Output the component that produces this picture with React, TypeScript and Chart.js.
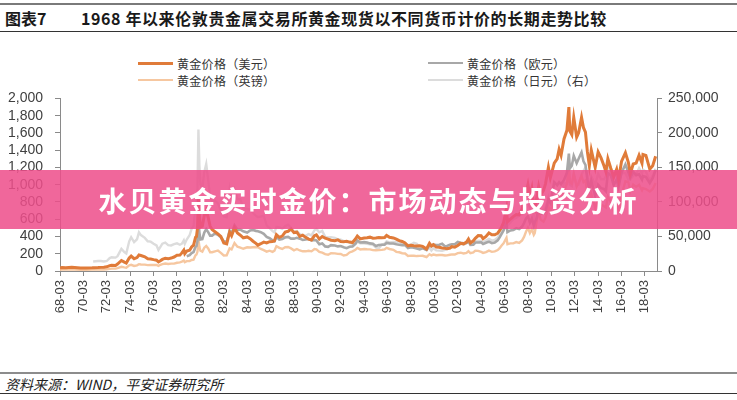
import React, { useEffect, useRef } from "react";
import { Chart, registerables } from "chart.js";

Chart.register(...registerables);

// ---- Data ----
const dates: string[] = [
  "1968-03", "1968-05", "1968-09", "1969-03", "1969-06", "1969-12", "1970-06", "1970-12",
  "1971-01", "1971-06", "1971-09", "1971-12",
  "1972-03", "1972-06", "1972-08", "1972-12",
  "1973-02", "1973-06", "1973-09", "1973-11",
  "1974-02", "1974-04", "1974-07", "1974-10", "1974-12",
  "1975-02", "1975-06", "1975-09", "1975-12",
  "1976-03", "1976-06", "1976-08", "1976-10", "1976-12",
  "1977-03", "1977-06", "1977-09", "1977-12",
  "1978-03", "1978-06", "1978-08", "1978-10", "1978-11",
  "1979-01", "1979-04", "1979-06", "1979-08", "1979-10", "1979-11", "1979-12",
  "1980-01", "1980-02", "1980-03", "1980-05", "1980-07", "1980-09", "1980-11",
  "1981-01", "1981-03", "1981-06", "1981-09", "1981-12",
  "1982-03", "1982-06", "1982-09", "1982-11",
  "1983-02", "1983-05", "1983-08", "1983-11",
  "1984-03", "1984-06", "1984-09", "1984-12",
  "1985-02", "1985-05", "1985-08", "1985-11",
  "1986-02", "1986-05", "1986-07", "1986-09", "1986-12",
  "1987-03", "1987-06", "1987-09", "1987-12",
  "1988-03", "1988-06", "1988-09", "1988-12",
  "1989-03", "1989-06", "1989-09", "1989-12",
  "1990-02", "1990-05", "1990-08", "1990-11",
  "1991-02", "1991-05", "1991-09", "1991-12",
  "1992-03", "1992-06", "1992-09", "1992-12",
  "1993-03", "1993-06", "1993-08", "1993-11",
  "1994-03", "1994-06", "1994-09", "1994-12",
  "1995-03", "1995-06", "1995-09", "1995-12",
  "1996-02", "1996-05", "1996-09", "1996-12",
  "1997-03", "1997-06", "1997-09", "1997-12",
  "1998-03", "1998-06", "1998-09", "1998-12",
  "1999-03", "1999-07", "1999-10", "1999-12",
  "2000-02", "2000-05", "2000-08", "2000-11",
  "2001-02", "2001-04", "2001-07", "2001-09", "2001-12",
  "2002-03", "2002-06", "2002-09", "2002-12",
  "2003-02", "2003-04", "2003-07", "2003-09", "2003-12",
  "2004-03", "2004-05", "2004-08", "2004-11",
  "2005-02", "2005-05", "2005-08", "2005-10", "2005-12",
  "2006-02", "2006-05", "2006-06", "2006-09", "2006-12",
  "2007-03", "2007-06", "2007-09", "2007-11",
  "2008-01", "2008-03", "2008-05", "2008-07", "2008-09", "2008-10", "2008-12",
  "2009-02", "2009-04", "2009-07", "2009-09", "2009-12",
  "2010-02", "2010-06", "2010-09", "2010-11",
  "2011-01", "2011-04", "2011-07", "2011-09", "2011-10", "2011-12",
  "2012-02", "2012-05", "2012-07", "2012-10", "2012-12",
  "2013-02", "2013-04", "2013-06", "2013-08", "2013-12",
  "2014-03", "2014-06", "2014-09", "2014-11",
  "2015-01", "2015-04", "2015-07", "2015-10", "2015-12",
  "2016-03", "2016-07", "2016-10", "2016-12",
  "2017-03", "2017-06", "2017-09", "2017-12",
  "2018-01", "2018-04", "2018-08", "2018-11",
  "2019-02",
];

const goldUSD: (number | null)[] = [
  35, 40, 39, 43, 41, 35, 35.5, 37.4,
  38, 40, 42, 43,
  48, 62, 67, 64,
  80, 122, 103, 92,
  150, 172, 142, 155, 185,
  180, 165, 142, 140,
  132, 125, 105, 118, 134,
  148, 141, 150, 162,
  182, 184, 210, 242, 200,
  230, 240, 278, 300, 390, 400, 490,
  850, 640, 510, 520, 640, 700, 620,
  520, 480, 455, 430, 400,
  325, 315, 450, 410,
  500, 440, 415, 385,
  395, 375, 345, 320,
  300, 316, 335, 325,
  340, 342, 350, 420, 390,
  405, 450, 460, 485,
  445, 450, 400, 415,
  390, 370, 360, 410,
  420, 370, 400, 380,
  370, 357, 350, 360,
  342, 340, 345, 335,
  330, 370, 405, 372,
  382, 385, 392, 380,
  382, 387, 385, 387,
  412, 390, 383, 370,
  352, 342, 325, 290,
  297, 293, 290, 292,
  285, 255, 320, 290,
  305, 277, 275, 267,
  262, 258, 266, 283, 276,
  295, 320, 315, 335,
  370, 325, 350, 378, 410,
  408, 375, 400, 440,
  420, 420, 438, 470, 510,
  560, 720, 570, 600, 630,
  655, 650, 720, 820,
  900, 1000, 870, 960, 750, 720, 850,
  980, 880, 935, 1010, 1200,
  1080, 1250, 1300, 1410,
  1340, 1530, 1630, 1900, 1620, 1580,
  1780, 1550, 1600, 1780, 1660,
  1610, 1380, 1220, 1400, 1200,
  1380, 1310, 1220, 1150,
  1300, 1190, 1090, 1180, 1060,
  1270, 1370, 1260, 1130,
  1240, 1250, 1340, 1250,
  1350, 1340, 1180, 1220,
  1330,
];

const goldGBP: (number | null)[] = [
  14.6, 16.7, 16.3, 18, 17.2, 14.6, 14.8, 15.6,
  15.8, 16.6, 17, 16.8,
  18.4, 24, 27, 27,
  33, 48, 42, 39,
  66, 72, 59, 66, 79,
  75, 74, 68, 69,
  69, 70, 59, 72, 79,
  86, 82, 86, 86,
  95, 100, 108, 120, 103,
  115, 115, 128, 132, 182, 190, 222,
  370, 280, 235, 225, 270, 290, 262,
  218, 218, 228, 238, 210,
  180, 182, 262, 250,
  325, 282, 272, 258,
  275, 272, 275, 278,
  275, 255, 242, 224,
  235, 222, 235, 288, 268,
  255, 275, 278, 262,
  240, 255, 238, 228,
  228, 235, 228, 255,
  250, 220, 212, 195,
  188, 206, 204, 198,
  197, 180, 187, 215,
  228, 245, 268, 250,
  255, 252, 250, 242,
  240, 242, 245, 250,
  268, 255, 245, 222,
  217, 206, 203, 175,
  178, 177, 173, 175,
  176, 162, 195, 180,
  190, 183, 185, 186,
  180, 181, 188, 193, 191,
  207, 212, 203, 210,
  230, 206, 215, 235, 233,
  222, 210, 219, 236,
  222, 228, 243, 265, 295,
  320, 385, 310, 320, 320,
  335, 325, 355, 395,
  455, 500, 440, 485, 420, 440, 580,
  680, 595, 570, 615, 745,
  690, 840, 830, 880,
  860, 930, 1010, 1210, 1030, 1010,
  1120, 980, 1025, 1100, 1030,
  1050, 900, 800, 895, 730,
  830, 770, 750, 735,
  860, 800, 700, 770, 715,
  880, 1040, 1030, 920,
  1000, 975, 1000, 935,
  960, 950, 920, 950,
  1020,
];

const goldEUR: (number | null)[] = [
  null, null, null, null, null, null, null, null,
  null, null, null, null,
  null, null, null, null,
  null, null, null, null,
  null, null, null, null, null,
  null, null, null, null,
  null, null, null, null, null,
  null, null, null, null,
  null, null, null, null, null,
  170, 183, 207, 220, 280, 290, 345,
  590, 445, 365, 370, 445, 485, 450,
  410, 410, 435, 420, 390,
  345, 335, 470, 435,
  530, 480, 480, 460,
  445, 470, 475, 465,
  460, 450, 430, 395,
  380, 355, 345, 400, 365,
  370, 390, 395, 375,
  375, 385, 375, 360,
  365, 370, 355, 360,
  355, 310, 320, 285,
  280, 300, 295, 285,
  290, 275, 265, 280,
  285, 315, 355, 330,
  335, 330, 320, 315,
  290, 300, 305, 305,
  325, 320, 318, 310,
  305, 300, 300, 265,
  275, 270, 260, 250,
  262, 245, 300, 288,
  305, 300, 305, 315,
  285, 290, 305, 310, 310,
  336, 328, 322, 325,
  343, 302, 305, 330, 330,
  333, 312, 327, 340,
  322, 330, 355, 390, 430,
  470, 560, 450, 470, 475,
  495, 485, 515, 555,
  610, 635, 560, 610, 525, 565, 610,
  770, 665, 665, 690, 825,
  790, 1030, 995, 1030,
  1005, 1055, 1140, 1360, 1190, 1220,
  1335, 1250, 1300, 1375, 1270,
  1230, 1060, 940, 1045, 870,
  1000, 960, 950, 925,
  1135, 1110, 995, 1060, 975,
  1140, 1235, 1140, 1080,
  1150, 1110, 1120, 1060,
  1100, 1090, 1020, 1075,
  1170,
];

const goldJPY: (number | null)[] = [
  null, null, null, null, null, null, null, null,
  13700, 14400, 14500, 13800,
  14500, 18700, 20000, 19400,
  21500, 32000, 27500, 25500,
  43000, 49000, 42000, 46000, 56000,
  52000, 48000, 43000, 42500,
  39500, 37000, 30500, 35000, 39500,
  41000, 37500, 37000, 39000,
  40000, 38000, 39500, 44500, 39500,
  45500, 52000, 61000, 65000, 92000, 98000, 118000,
  205000, 152000, 125000, 120000, 143000, 155000, 132000,
  108000, 100000, 102000, 98000, 88000,
  79000, 78000, 118000, 103000,
  118000, 104000, 104000, 91000,
  90000, 89000, 84000, 80000,
  78000, 79000, 80000, 66000,
  62000, 58000, 56000, 64000, 63000,
  61000, 65000, 67000, 63000,
  57000, 58000, 53500, 51500,
  51000, 53500, 51500, 59000,
  61000, 56000, 58000, 49500,
  48500, 49000, 48000, 46000,
  45500, 43500, 42000, 41500,
  39000, 39500, 42000, 40000,
  40000, 39500, 38800, 37800,
  34000, 32500, 38000, 39500,
  43000, 41500, 42000, 42000,
  43000, 39000, 39500, 37500,
  38500, 41000, 39500, 34000,
  33500, 30000, 34000, 29800,
  33000, 29800, 29500, 29200,
  30500, 31800, 33000, 33800, 35200,
  38800, 39200, 38000, 40500,
  44000, 39000, 41500, 42500, 44000,
  43500, 41500, 44000, 46500,
  44000, 45000, 48500, 54000, 60000,
  65000, 80000, 66000, 70000, 75000,
  77000, 80000, 82000, 90000,
  97000, 100000, 92000, 103000, 80000, 70000, 77000,
  95000, 87000, 88000, 91000, 107000,
  97000, 112000, 110000, 116000,
  110000, 127000, 128000, 145000, 125000, 123000,
  142000, 124000, 125000, 140000, 145000,
  150000, 137000, 120000, 137000, 125000,
  141000, 133000, 133000, 137000,
  153000, 142000, 135000, 142000, 128000,
  142000, 142000, 132000, 132000,
  138000, 140000, 149000, 141000,
  147000, 144000, 131000, 138000,
  148000,
];

const tickYears: number[] = [
  1968, 1970, 1972, 1974, 1976, 1978, 1980, 1982, 1984, 1986, 1988, 1990, 1992,
  1994, 1996, 1998, 2000, 2002, 2004, 2006, 2008, 2010, 2012, 2014, 2016, 2018,
];
const tickLabels: string[] = [
  "68-03", "70-03", "72-03", "74-03", "76-03", "78-03", "80-03", "82-03", "84-03",
  "86-03", "88-03", "90-03", "92-03", "94-03", "96-03", "98-03", "00-03", "02-03",
  "04-03", "06-03", "08-03", "10-03", "12-03", "14-03", "16-03", "18-03",
];

const seriesNames = ["黄金价格（美元）", "黄金价格（欧元）", "黄金价格（英镑）", "黄金价格（日元）（右）"];
const seriesColors = ["#E07B39", "#A8A8A8", "#F6C7A0", "#DCDCDC"];

const toYear = (d: string) => {
  const [y, m] = d.split("-").map(Number);
  return y + (m - 1) / 12;
};

const toPoints = (vals: (number | null)[]) =>
  dates.map((d, i) => ({ x: toYear(d), y: vals[i] }));

const fmt = (v: number) => Math.round(v).toLocaleString("en-US");

const axisFont = { family: "'Liberation Sans', Arial, sans-serif", size: 14 };

export default function App() {
  const ref = useRef<HTMLCanvasElement>(null);

  useEffect(() => {
    document.body.style.margin = "0";
    const canvas = ref.current!;
    const chart = new Chart(canvas, {
      type: "line",
      data: {
        datasets: [
          { label: seriesNames[0], data: toPoints(goldUSD), borderColor: seriesColors[0], borderWidth: 3, yAxisID: "y" },
          { label: seriesNames[1], data: toPoints(goldEUR), borderColor: seriesColors[1], borderWidth: 2.6, yAxisID: "y" },
          { label: seriesNames[2], data: toPoints(goldGBP), borderColor: seriesColors[2], borderWidth: 2.4, yAxisID: "y" },
          { label: seriesNames[3], data: toPoints(goldJPY), borderColor: seriesColors[3], borderWidth: 2.4, yAxisID: "y1" },
        ] as any,
      },
      options: {
        animation: false,
        responsive: false,
        maintainAspectRatio: false,
        events: [],
        elements: { point: { radius: 0 }, line: { tension: 0 } },
        layout: { padding: { top: 10, left: 0, right: 0, bottom: 0 } },
        plugins: { legend: { display: false }, tooltip: { enabled: false } },
        scales: {
          x: {
            type: "linear",
            min: 1968 + 2 / 12,
            max: 2019.2,
            afterBuildTicks: (scale: any) => {
              scale.ticks = tickYears.map((y) => ({ value: y + 2 / 12 }));
            },
            afterFit: (scale: any) => {
              scale.height = 54;
            },
            grid: { drawOnChartArea: false, drawTicks: true, tickLength: 5, color: "#8a8a8a" },
            border: { display: true, color: "#8a8a8a", width: 1 },
            ticks: {
              autoSkip: false,
              maxRotation: 90,
              minRotation: 90,
              padding: 4,
              color: "#404040",
              font: { family: "'Liberation Sans', Arial, sans-serif", size: 13 },
              callback: (_v: any, i: number) => tickLabels[i],
            },
          },
          y: {
            type: "linear",
            position: "left",
            min: 0,
            max: 2000,
            afterFit: (scale: any) => {
              scale.width = 60;
            },
            grid: { drawOnChartArea: false, drawTicks: true, tickLength: 5, color: "#8a8a8a" },
            border: { display: true, color: "#8a8a8a", width: 1 },
            ticks: {
              stepSize: 200,
              autoSkip: false,
              padding: 12,
              color: "#404040",
              font: axisFont,
              callback: (v: any) => fmt(Number(v)),
            },
          },
          y1: {
            type: "linear",
            position: "right",
            min: 0,
            max: 250000,
            afterFit: (scale: any) => {
              scale.width = 80;
            },
            grid: { drawOnChartArea: false, drawTicks: true, tickLength: 5, color: "#8a8a8a" },
            border: { display: true, color: "#8a8a8a", width: 1 },
            ticks: {
              stepSize: 50000,
              autoSkip: false,
              padding: 6,
              color: "#404040",
              font: axisFont,
              callback: (v: any) => fmt(Number(v)),
            },
          },
        },
      } as any,
    });
    return () => chart.destroy();
  }, []);

  const legendItem = (i: number, left: number, top: number, thick: number) => (
    <div
      key={i}
      style={{ position: "absolute", left, top, height: 16, display: "flex", alignItems: "center" }}
    >
      <div style={{ width: 35, height: thick, background: seriesColors[i], marginRight: 4 }} />
      <span style={{ fontSize: 12, color: "#333", letterSpacing: 0.3, whiteSpace: "nowrap" }}>{seriesNames[i]}</span>
    </div>
  );

  return (
    <div
      style={{
        position: "relative",
        width: 737,
        height: 400,
        background: "#fff",
        overflow: "hidden",
        fontFamily: "'Noto Sans CJK SC', sans-serif",
      }}
    >
      {/* title bar */}
      <div style={{ position: "absolute", left: 0, top: 3, width: 737, height: 2, background: "#7a7a7a" }} />
      <div
        style={{
          position: "absolute",
          left: 5,
          top: 7,
          fontSize: 16,
          fontWeight: 700,
          color: "#1a1a1a",
          lineHeight: "22px",
          whiteSpace: "nowrap",
        }}
      >
        图表7
      </div>
      <div
        style={{
          position: "absolute",
          left: 81,
          top: 7,
          fontSize: 16,
          fontWeight: 700,
          color: "#1a1a1a",
          lineHeight: "22px",
          letterSpacing: 0.6,
          whiteSpace: "nowrap",
        }}
      >
        1968 年以来伦敦贵金属交易所黄金现货以不同货币计价的长期走势比较
      </div>
      <div style={{ position: "absolute", left: 0, top: 31, width: 737, height: 1, background: "#333" }} />

      {/* legend */}
      {legendItem(0, 138, 55, 3)}
      {legendItem(1, 428, 55, 2.5)}
      {legendItem(2, 138, 72, 2.5)}
      {legendItem(3, 428, 72, 2.5)}

      {/* chart */}
      <canvas
        ref={ref}
        width={737}
        height={247}
        style={{ position: "absolute", left: 0, top: 78, width: 737, height: 247 }}
      />

      {/* overlay banner */}
      <div
        style={{
          position: "absolute",
          left: 0,
          top: 170,
          width: 737,
          height: 59,
          background: "rgba(237, 78, 138, 0.86)",
          display: "flex",
          alignItems: "center",
          justifyContent: "center",
        }}
      >
        <span
          style={{
            color: "#fff",
            fontSize: 28,
            fontWeight: 700,
            letterSpacing: 2,
            whiteSpace: "nowrap",
          }}
        >
          水贝黄金实时金价：市场动态与投资分析
        </span>
      </div>

      {/* footer */}
      <div style={{ position: "absolute", left: 0, top: 372, width: 737, height: 2, background: "#8c8c8c" }} />
      <div
        style={{
          position: "absolute",
          left: 5,
          top: 375,
          fontSize: 14,
          fontStyle: "italic",
          color: "#222",
          lineHeight: "18px",
          whiteSpace: "nowrap",
        }}
      >
        资料来源：WIND，平安证券研究所
      </div>
      <div style={{ position: "absolute", left: 0, top: 393, width: 737, height: 1, background: "#333" }} />
    </div>
  );
}
